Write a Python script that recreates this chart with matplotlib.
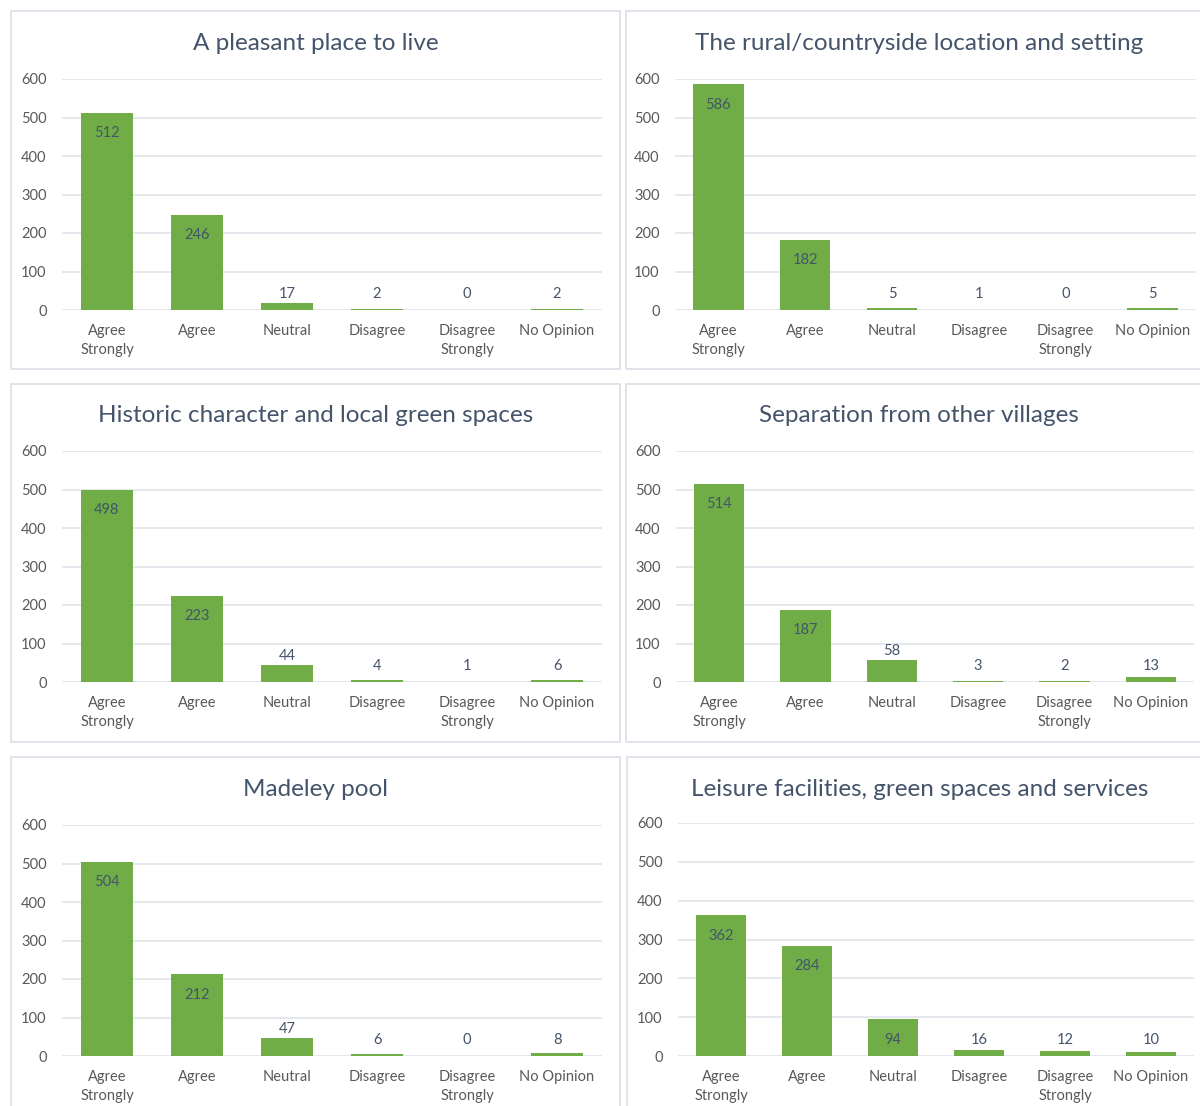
import matplotlib.pyplot as plt
from matplotlib.patches import Rectangle

plt.rcParams['font.family'] = ['Lato', 'DejaVu Sans']

categories = ['Agree\nStrongly', 'Agree', 'Neutral', 'Disagree', 'Disagree\nStrongly', 'No Opinion']

titles = [
    'A pleasant place to live',
    'The rural/countryside location and setting',
    'Historic character and local green spaces',
    'Separation from other villages',
    'Madeley pool',
    'Leisure facilities, green spaces and services',
]

pleasant = [512, 246, 17, 2, 0, 2]
rural = [586, 182, 5, 1, 0, 5]
historic = [498, 223, 44, 4, 1, 6]
separation = [514, 187, 58, 3, 2, 13]
madeley = [504, 212, 47, 6, 0, 8]
leisure = [362, 284, 94, 16, 12, 10]

series = [pleasant, rural, historic, separation, madeley, leisure]

BAR = '#70AD47'
GRID = '#E3E6EC'
TITLE_C = '#44546A'
TICK_C = '#595959'

W, H = 1200, 1106
fig = plt.figure(figsize=(W / 100, H / 100), dpi=100)

# pixel boxes: (left, right, y of 600, y of 0)
plot_boxes = [
    (62, 602, 79, 310),
    (675, 1196, 79, 310),
    (62, 602, 451, 682),
    (676, 1194, 451, 682),
    (62, 602, 825, 1056),
    (678, 1194, 823, 1056),
]
# chart frames: (left, right, top, bottom)
frames = [
    (11, 620, 11, 369),
    (626, 1210, 11, 369),
    (11, 620, 384, 742),
    (626, 1210, 384, 742),
    (11, 620, 757, 1120),
    (627, 1210, 757, 1120),
]
title_pos = [(316, 44), (919, 44), (316, 416), (919, 416), (316, 790), (920, 789)]


def px(x, y):
    return x / W, 1 - y / H


for (fl, fr, ft, fb) in frames:
    x0, y0 = px(fl, fb)
    fig.patches.append(Rectangle((x0, y0), (fr - fl) / W, (fb - ft) / H,
                                 transform=fig.transFigure, fill=False,
                                 edgecolor='#DEE1E8', linewidth=1.3))

for i in range(len(series)):
    l, r, t, b = plot_boxes[i]
    x0, y0 = px(l, b)
    ax = fig.add_axes([x0, y0, (r - l) / W, (b - t) / H])
    vals = series[i]
    xs = list(range(len(vals)))
    ax.bar(xs, vals, width=0.58, color=BAR, zorder=3)
    ax.set_xlim(-0.5, len(vals) - 0.5)
    ax.set_ylim(0, 600)
    ax.set_yticks(range(0, 601, 100))
    ax.grid(axis='y', color=GRID, linewidth=1.3, zorder=0)
    for s in ax.spines.values():
        s.set_visible(False)
    ax.axhline(0, color=GRID, linewidth=1.3, zorder=2)
    ax.set_xticks(xs)
    ax.set_xticklabels(categories, linespacing=1.45)
    ax.tick_params(axis='both', length=0, colors=TICK_C, labelsize=10.5)
    ax.tick_params(axis='x', pad=10)
    ax.tick_params(axis='y', pad=11)
    for lab in ax.get_xticklabels():
        lab.set_verticalalignment('top')

    # value labels: inside the top of tall bars, above short ones
    for x, v in zip(xs, vals):
        if v >= 80:
            ax.annotate(str(v), (x, v), xytext=(0, -14.5), textcoords='offset points',
                        ha='center', va='center', fontsize=10.5, color=TITLE_C, zorder=4)
        else:
            ax.annotate(str(v), (x, max(v, 18)), xytext=(0, 6.5), textcoords='offset points',
                        ha='center', va='center', fontsize=10.5, color=TITLE_C, zorder=4)

    tx, ty = px(*title_pos[i])
    fig.text(tx, ty, titles[i], ha='center', va='center', fontsize=17.5, color=TITLE_C)

fig.savefig('out.png', dpi=100, facecolor='white')
